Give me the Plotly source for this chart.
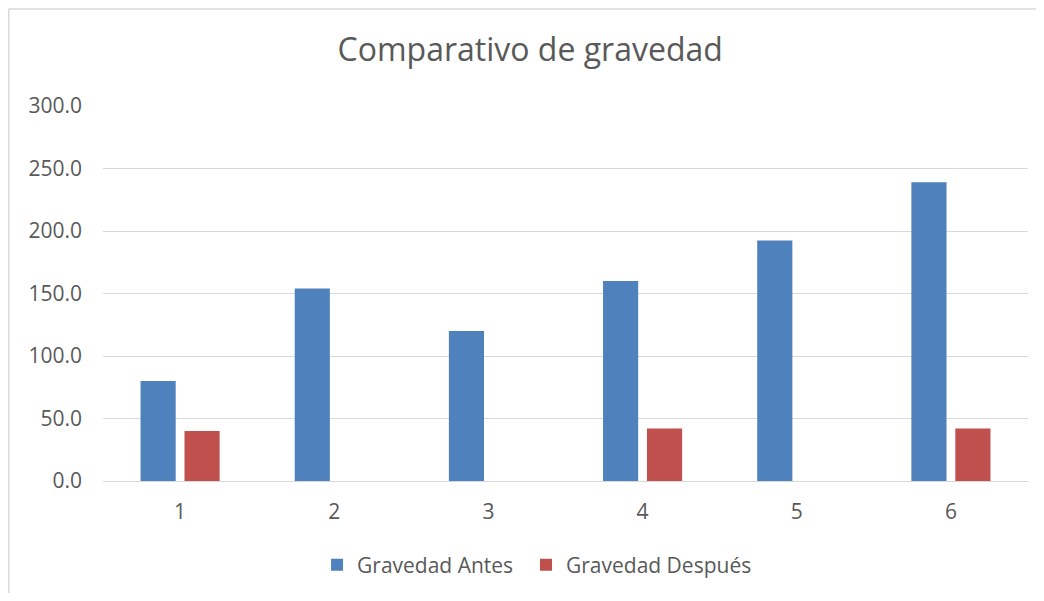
import plotly.graph_objects as go

categories = ["1", "2", "3", "4", "5", "6"]
antes = [80, 154, 120, 160, 192.5, 239]
despues = [40, 0, 0, 42, 0, 42]
y_ticks = [0, 50, 100, 150, 200, 250, 300]
y_tick_labels = ["0.0", "50.0", "100.0", "150.0", "200.0", "250.0", "300.0"]

FONT = "Open Sans, Noto Sans, sans-serif"
GREY_TEXT = "#595959"
BORDER = "#D9D9D9"

fig = go.Figure()
fig.add_trace(go.Bar(x=categories, y=antes, name="Gravedad Antes", legend="legend",
                     showlegend=True,
                     marker=dict(color="#4F81BD", line=dict(width=0))))
fig.add_trace(go.Bar(x=categories, y=despues, name="Gravedad Después", legend="legend2",
                     showlegend=True,
                     marker=dict(color="#C0504D", line=dict(width=0))))

legend_common = dict(orientation="h", xanchor="left", y=-0.224, yanchor="middle",
                     font=dict(size=21, color=GREY_TEXT), itemwidth=30,
                     bgcolor="rgba(0,0,0,0)")

fig.update_layout(
    width=1028, height=585,
    showlegend=True,
    margin=dict(l=95, r=8, t=98, b=112, autoexpand=False),
    paper_bgcolor="white", plot_bgcolor="white",
    barmode="group", bargap=0.43, bargroupgap=0.2,
    title=dict(text="Comparativo de gravedad", x=0.508, xanchor="center",
               y=0.9282, yanchor="middle",
               font=dict(family=FONT, size=32, color=GREY_TEXT)),
    font=dict(family=FONT, color=GREY_TEXT),
    legend=dict(x=0.2314, **legend_common),
    legend2=dict(x=0.4573, **legend_common),
    xaxis=dict(type="category", showgrid=False, showline=False, ticks="",
               automargin=False, ticklabelstandoff=16,
               tickfont=dict(size=21, color=GREY_TEXT)),
    yaxis=dict(range=[0, 300], tickvals=y_ticks, ticktext=y_tick_labels,
               showgrid=True, gridcolor="#D9D9D9", gridwidth=1,
               zeroline=True, zerolinecolor="#D9D9D9", zerolinewidth=1,
               showline=False, ticks="", ticklabelstandoff=20, automargin=False,
               tickfont=dict(size=21, color=GREY_TEXT)),
    shapes=[
        dict(type="line", xref="paper", yref="paper",
             x0=-0.1019, x1=1.1, y0=1.2587, y1=1.2587,
             line=dict(color=BORDER, width=1.5), layer="below"),
        dict(type="line", xref="paper", yref="paper",
             x0=-0.1019, x1=-0.1019, y0=-0.4, y1=1.2587,
             line=dict(color=BORDER, width=1.5), layer="below"),
    ],
)

fig.write_html("out.html")
